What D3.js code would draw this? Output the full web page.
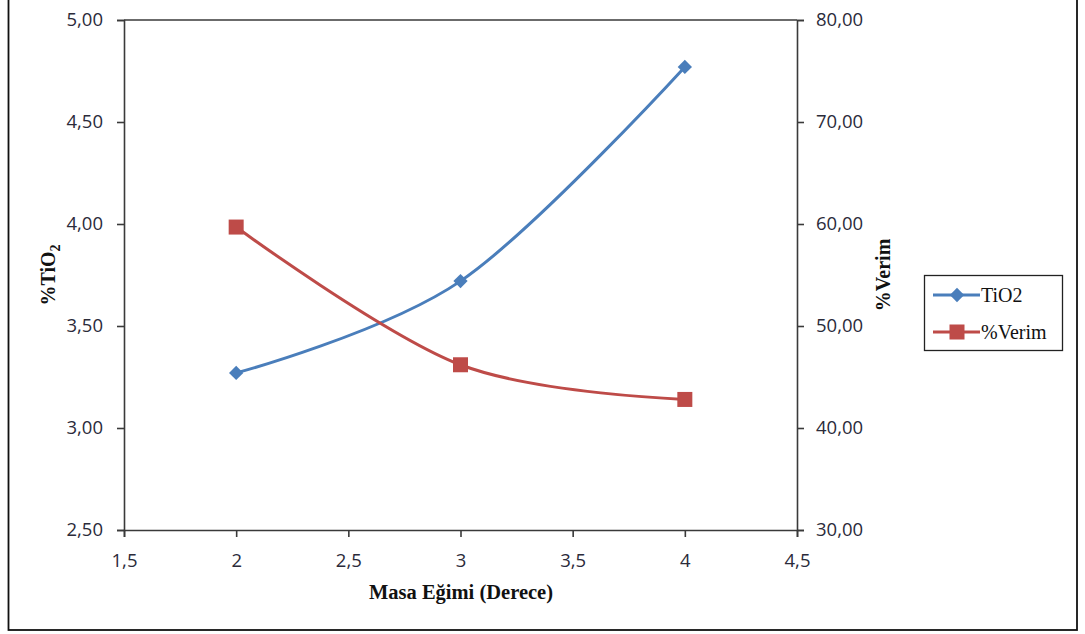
<!DOCTYPE html>
<html>
<head>
<meta charset="utf-8">
<script src="https://cdn.jsdelivr.net/npm/d3@7"></script>
<style>
  html, body { margin: 0; padding: 0; background: #fff; }
  svg { display: block; }
</style>
</head>
<body>
<svg id="chart" width="1085" height="634"></svg>
<script>
// Table slope (degrees) against TiO2 content and yield
const slopes = [2, 3, 4];
const tio2 = [3.27, 3.72, 4.77];
const verim = [59.7, 46.2, 42.8];

const xTicks = [1.5, 2, 2.5, 3, 3.5, 4, 4.5];
const leftTicks = [2.5, 3.0, 3.5, 4.0, 4.5, 5.0];
const rightTicks = [30, 40, 50, 60, 70, 80];

const seriesNames = ["TiO2", "%Verim"];
const colors = ["#4A7EBB", "#BE4B48"];

const svg = d3.select("#chart");
const m = { left: 124, top: 20, right: 797, bottom: 530 };

const x = d3.scaleLinear().domain([1.5, 4.5]).range([m.left, m.right]);
const yL = d3.scaleLinear().domain([2.5, 5.0]).range([m.bottom, m.top]);
const yR = d3.scaleLinear().domain([30, 80]).range([m.bottom, m.top]);

const comma = (d, p) => d.toFixed(p).replace(".", ",");
const tickFont = "'Open Sans', 'Noto Sans', sans-serif";
const axisColor = "#3a3a3a";

// outer frame
svg.append("rect")
  .attr("x", 8.5).attr("y", -5)
  .attr("width", 1068.5).attr("height", 635)
  .attr("fill", "none").attr("stroke", "#111").attr("stroke-width", 1.8);

function styleAxis(g) {
  g.selectAll(".domain").attr("stroke", axisColor).attr("stroke-width", 1.6);
  g.selectAll(".tick line").attr("stroke", axisColor).attr("stroke-width", 1.6);
  g.selectAll(".tick text")
    .attr("font-family", tickFont)
    .attr("font-size", 18.5)
    .attr("fill", "#2b2b3a");
}

// bottom axis
const gx = svg.append("g")
  .attr("transform", `translate(0,${m.bottom})`)
  .call(d3.axisBottom(x).tickValues(xTicks).tickSizeOuter(0).tickSize(7).tickPadding(17)
    .tickFormat(d => Number.isInteger(d) ? String(d) : comma(d, 1)));
styleAxis(gx);

// top border of plot area
svg.append("line")
  .attr("x1", m.left).attr("x2", m.right)
  .attr("y1", m.top).attr("y2", m.top)
  .attr("stroke", axisColor).attr("stroke-width", 1.6);

// left axis
const gl = svg.append("g")
  .attr("transform", `translate(${m.left},0)`)
  .call(d3.axisLeft(yL).tickValues(leftTicks).tickSizeOuter(0).tickSize(7).tickPadding(14)
    .tickFormat(d => comma(d, 2)));
styleAxis(gl);

// right axis
const gr = svg.append("g")
  .attr("transform", `translate(${m.right},0)`)
  .call(d3.axisRight(yR).tickValues(rightTicks).tickSizeOuter(0).tickSize(7).tickPadding(12)
    .tickFormat(d => comma(d, 2)));
styleAxis(gr);

// axis titles
const titleFont = "'Liberation Serif', 'Times New Roman', serif";
svg.append("text")
  .attr("x", 461)
  .attr("y", 599)
  .attr("text-anchor", "middle")
  .attr("font-family", titleFont).attr("font-weight", "bold").attr("font-size", 20.5)
  .attr("fill", "#111")
  .text("Masa Eğimi (Derece)");

const tl = svg.append("text")
  .attr("transform", `translate(55,${(m.top + m.bottom) / 2}) rotate(-90)`)
  .attr("text-anchor", "middle")
  .attr("font-family", titleFont).attr("font-weight", "bold").attr("font-size", 20)
  .attr("fill", "#111");
tl.append("tspan").text("%TiO");
tl.append("tspan").attr("font-size", 14).attr("dy", 5).text("2");

svg.append("text")
  .attr("transform", `translate(890,${(m.top + m.bottom) / 2}) rotate(-90)`)
  .attr("text-anchor", "middle")
  .attr("font-family", titleFont).attr("font-weight", "bold").attr("font-size", 20)
  .attr("fill", "#111")
  .text("%Verim");

// series
const curve = d3.curveCatmullRom.alpha(0);
const lineL = d3.line().x((d, i) => x(slopes[i])).y(d => yL(d)).curve(curve);
const lineR = d3.line().x((d, i) => x(slopes[i])).y(d => yR(d)).curve(curve);

svg.append("path").datum(tio2)
  .attr("d", lineL).attr("fill", "none")
  .attr("stroke", colors[0]).attr("stroke-width", 3).attr("stroke-linejoin", "round");
svg.append("path").datum(verim)
  .attr("d", lineR).attr("fill", "none")
  .attr("stroke", colors[1]).attr("stroke-width", 3).attr("stroke-linejoin", "round");

const diamond = d3.symbol().type(d3.symbolDiamond2).size(130);
svg.selectAll(".pt-tio2").data(tio2).join("path")
  .attr("class", "pt-tio2")
  .attr("transform", (d, i) => `translate(${x(slopes[i])},${yL(d)})`)
  .attr("d", diamond).attr("fill", colors[0]);

const sq = 15;
svg.selectAll(".pt-verim").data(verim).join("rect")
  .attr("class", "pt-verim")
  .attr("x", (d, i) => x(slopes[i]) - sq / 2)
  .attr("y", d => yR(d) - sq / 2)
  .attr("width", sq).attr("height", sq)
  .attr("fill", colors[1]);

// legend
const lg = svg.append("g");
lg.append("rect")
  .attr("x", 924.5).attr("y", 275.5).attr("width", 138).attr("height", 75)
  .attr("fill", "#fff").attr("stroke", "#222").attr("stroke-width", 1.3);
const rows = [295, 332];
seriesNames.forEach((name, i) => {
  lg.append("line")
    .attr("x1", 933).attr("x2", 980).attr("y1", rows[i]).attr("y2", rows[i])
    .attr("stroke", colors[i]).attr("stroke-width", 3);
  if (i === 0) {
    lg.append("path").attr("transform", `translate(957,${rows[i]})`)
      .attr("d", diamond).attr("fill", colors[i]);
  } else {
    lg.append("rect").attr("x", 957 - sq / 2).attr("y", rows[i] - sq / 2)
      .attr("width", sq).attr("height", sq).attr("fill", colors[i]);
  }
  lg.append("text")
    .attr("x", 981).attr("y", rows[i] + 7)
    .attr("font-family", titleFont).attr("font-size", 20).attr("fill", "#111")
    .text(name);
});
</script>
</body>
</html>
